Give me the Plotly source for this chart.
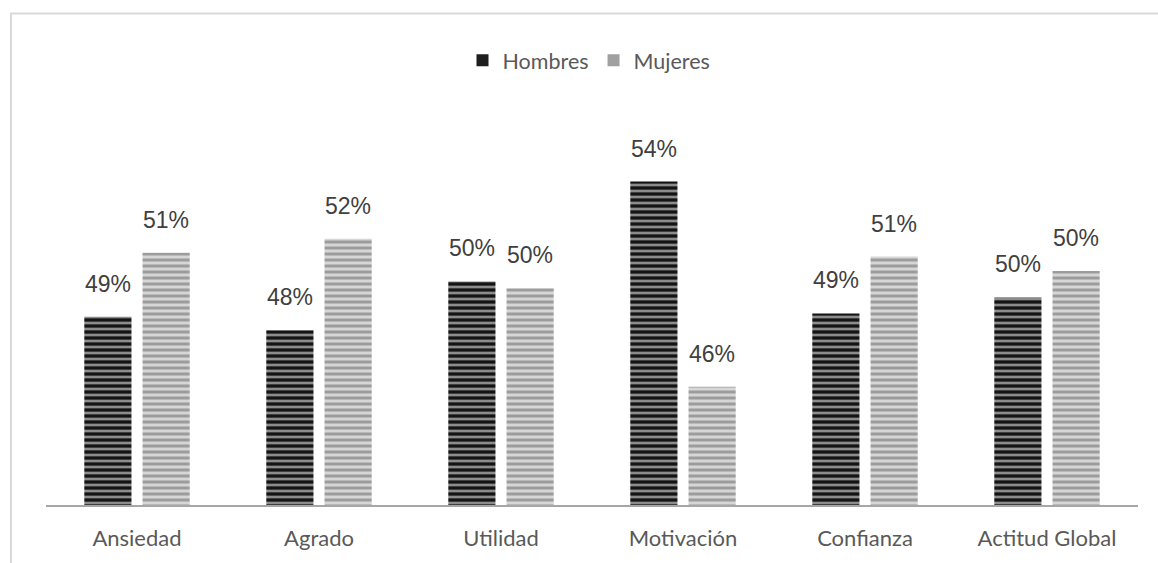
import plotly.graph_objects as go

categories = ["Ansiedad", "Agrado", "Utilidad", "Motivación", "Confianza", "Actitud Global"]
hombres = [48.83, 48.34, 50.11, 53.73, 48.95, 49.53]
mujeres = [51.15, 51.66, 49.86, 46.29, 51.01, 50.49]
series_names = ["Hombres", "Mujeres"]

W, H = 1158, 563
ML, MR, MT, MB = 46, 20, 119, 56
pw = W - ML - MR
ph = H - MT - MB

fig = go.Figure()

fig.add_trace(go.Bar(
    x=categories, y=hombres, name=series_names[0], showlegend=False,
    marker=dict(color="#8c8c8c", line=dict(width=0),
                pattern=dict(shape="-", fgcolor="#141414", bgcolor="#8c8c8c",
                             size=6, solidity=0.55, fillmode="replace")),
))
fig.add_trace(go.Bar(
    x=categories, y=mujeres, name=series_names[1], showlegend=False,
    marker=dict(color="#d6d6d6", line=dict(width=0),
                pattern=dict(shape="-", fgcolor="#9c9c9c", bgcolor="#d6d6d6",
                             size=6, solidity=0.5, fillmode="replace")),
))

# legend entries (solid squares)
fig.add_trace(go.Scatter(x=[None], y=[None], mode="markers", name=series_names[0],
                         marker=dict(symbol="square", size=13, color="#1e1e1e")))
fig.add_trace(go.Scatter(x=[None], y=[None], mode="markers", name=series_names[1],
                         marker=dict(symbol="square", size=13, color="#a0a0a0")))

annotations = []
for cat, h, m in zip(categories, hombres, mujeres):
    for val, xs in ((h, -29), (m, 29)):
        annotations.append(dict(
            x=cat, y=val, xref="x", yref="y", text=f"{round(val)}%",
            showarrow=False, xshift=xs, yshift=33, yanchor="middle",
            font=dict(family="Liberation Sans, Arial", size=23, color="#404040"),
        ))

fig.update_layout(
    width=W, height=H, autosize=False,
    margin=dict(l=ML, r=MR, t=MT, b=MB),
    paper_bgcolor="white", plot_bgcolor="white",
    barmode="group", bargap=0.36, bargroupgap=0.19,
    showlegend=True,
    legend=dict(orientation="h", x=(589 - ML) / pw, xanchor="center",
                y=(H - MB - 60) / ph, yanchor="middle",
                font=dict(family="Lato, Open Sans", size=21.5, color="#595959"),
                itemsizing="constant", bgcolor="rgba(0,0,0,0)"),
    xaxis=dict(showline=True, linecolor="#a6a6a6", linewidth=2, ticks="",
               showgrid=False, zeroline=False, ticklabelstandoff=13,
               tickfont=dict(family="Lato, Open Sans", size=22, color="#595959")),
    yaxis=dict(range=[42, 56], visible=False, showgrid=False, zeroline=False),
    annotations=annotations,
    shapes=[dict(type="rect", xref="paper", yref="paper",
                 x0=(11 - ML) / pw, x1=(W + 20 - ML) / pw,
                 y0=-(MB + 20) / ph, y1=(H - MB - 13) / ph,
                 line=dict(color="#d9d9d9", width=2), fillcolor="rgba(0,0,0,0)")],
)

fig.write_html("out.html", config={"displayModeBar": False},
               post_script="document.body.style.margin='0';")
